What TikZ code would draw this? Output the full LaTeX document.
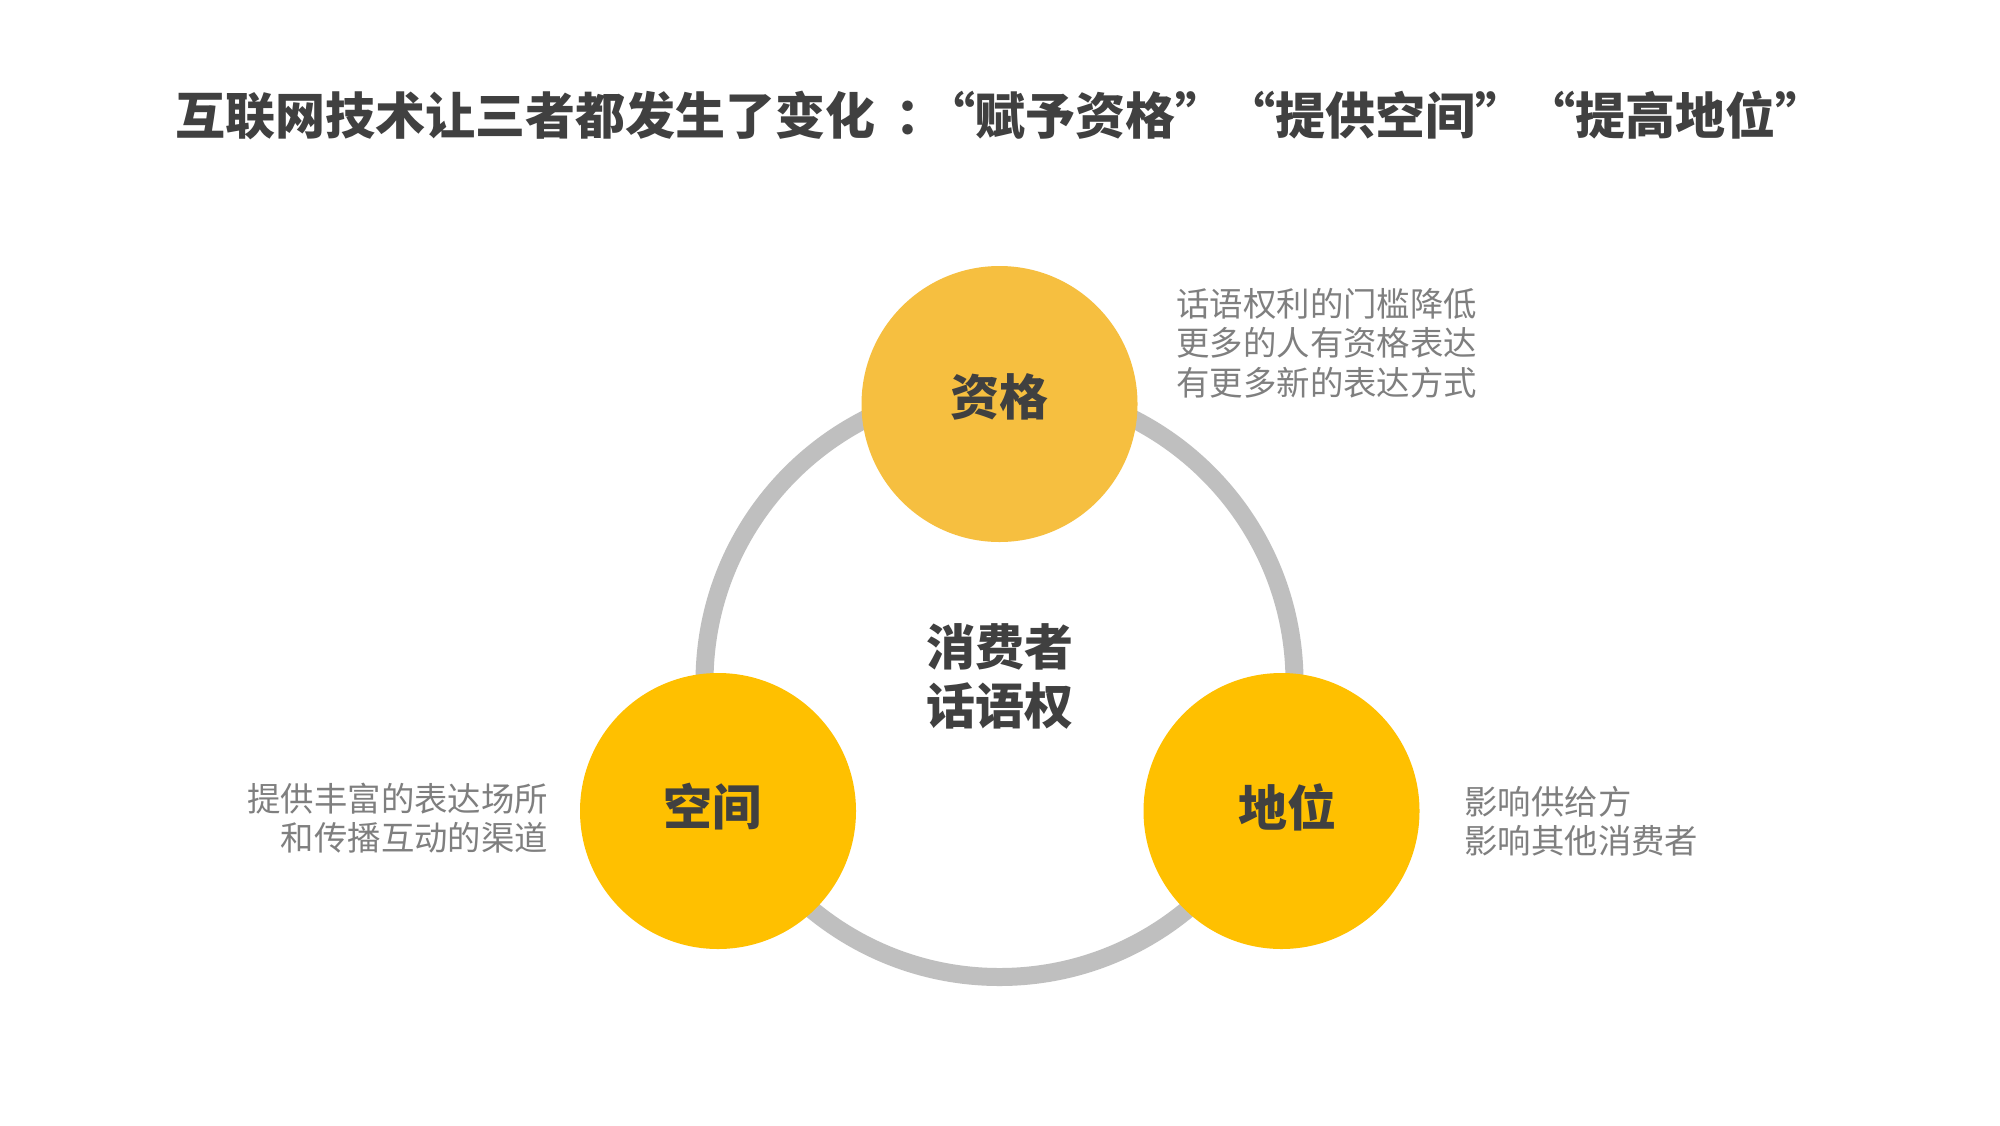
\documentclass[tikz,border=0pt]{standalone}
\usepackage{fontspec}
\newfontfamily\cjk{Noto Sans CJK SC}
\definecolor{ringgray}{HTML}{BFBFBF}
\definecolor{topyel}{HTML}{F6BF40}
\definecolor{yel}{HTML}{FFC000}
\definecolor{darktext}{HTML}{404040}
\definecolor{sidetext}{HTML}{7F7F7F}
\tikzset{
  bubble/.style={circle,inner sep=0pt,minimum size=138pt,draw=none},
  bubblelabel/.style={text=darktext,font=\cjk\bfseries\fontsize{24.5}{29.5}\selectfont,inner sep=0pt},
  sidenote/.style={text=sidetext,font=\cjk\fontsize{16.7}{19.75}\selectfont,inner sep=0pt},
}
\begin{document}
\begin{tikzpicture}[x=0.5pt,y=-0.5pt]
\useasboundingbox[fill=white] (0,0) rectangle (2000,1125);
% title
\node[anchor=west,inner sep=0pt,text=darktext,font=\cjk\bfseries\fontsize{25}{30}\selectfont] (title) at (175,115)
  {互联网技术让三者都发生了变化\hspace{0.4em}：\hspace{-0.4em}“赋予资格”“提供空间”“提高地位”};
% ring
\draw[ringgray,line width=9pt] (999.5,682) circle[radius=295];
% bubbles
\node[bubble,fill=topyel] (zige) at (999.5,404) {};
\node[bubble,fill=yel] (kongjian) at (718,811) {};
\node[bubble,fill=yel] (diwei) at (1281.5,811) {};
\node[bubblelabel] (zigeL) at (999,397) {资格};
\node[bubblelabel] (kongjianL) at (712,807) {空间};
\node[bubblelabel] (diweiL) at (1287,807) {地位};
% center
\node[bubblelabel,align=center] (center) at (999.5,676) {消费者\\话语权};
% side notes
\node[sidenote,anchor=west,align=left] (noteTop) at (1176,343) {话语权利的门槛降低\\更多的人有资格表达\\有更多新的表达方式};
\node[sidenote,anchor=east,align=right] (noteLeft) at (548.5,818) {提供丰富的表达场所\\和传播互动的渠道};
\node[sidenote,anchor=west,align=left] (noteRight) at (1464,821) {影响供给方\\影响其他消费者};
\end{tikzpicture}
\end{document}
